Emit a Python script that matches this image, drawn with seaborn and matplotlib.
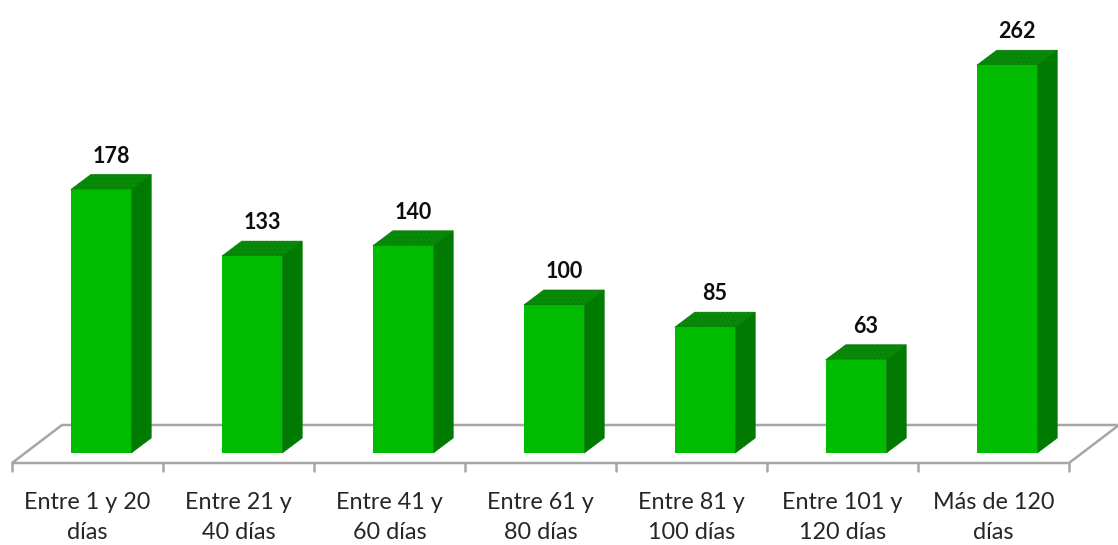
import numpy as np
import pandas as pd
import seaborn as sns
import matplotlib
matplotlib.use("Agg")
import matplotlib.pyplot as plt
from matplotlib.patches import Polygon
from matplotlib.lines import Line2D
from matplotlib.transforms import ScaledTranslation, IdentityTransform

categories = ["Entre 1 y 20\ndías", "Entre 21 y\n40 días", "Entre 41 y\n60 días",
              "Entre 61 y\n80 días", "Entre 81 y\n100 días", "Entre 101 y\n120 días",
              "Más de 120\ndías"]
values = [178, 133, 140, 100, 85, 63, 262]

FRONT = "#00BB00"
SIDE = "#007A00"
TOP = "#078A07"
FLOOR = "#A6A6A6"

sns.set_theme(style="white")
plt.rcParams["font.family"] = ["Lato", "DejaVu Sans"]
plt.rcParams["hatch.linewidth"] = 0.6

W, H, DPI = 1118, 545, 100
fig = plt.figure(figsize=(W / DPI, H / DPI), dpi=DPI)
ax = fig.add_axes([25.5 / W, 92 / H, 1057 / W, 453 / H])

df = pd.DataFrame({"cat": categories, "val": values})
sns.barplot(data=df, x="cat", y="val", color=FRONT, saturation=1, width=0.40,
            ax=ax, zorder=3, linewidth=0)
ax.set_xlim(-0.5, len(categories) - 0.5)
ax.set_ylim(0, 453 / 1.48)
for s in ax.spines.values():
    s.set_visible(False)
ax.set_yticks([])
ax.set_xlabel("")
ax.set_ylabel("")
ax.tick_params(axis="x", length=0, pad=28, labelsize=16.8, colors="#262626")
off = ScaledTranslation(-13.5 / DPI, 0, fig.dpi_scale_trans)
for lab in ax.get_xticklabels():
    lab.set_transform(lab.get_transform() + off)
    lab.set_linespacing(1.55)

fig.canvas.draw()
T = ax.transData
I = IdentityTransform()

# floor
n = len(categories)
fx0, fy = T.transform((-0.5, 0))
fx1, _ = T.transform((n - 0.5, 0))
front_dx, front_dy = -13.5, -10
back_dx, back_dy = 36.5, 28
pts = [(fx0 + front_dx, fy + front_dy), (fx1 + front_dx, fy + front_dy),
       (fx1 + back_dx, fy + back_dy), (fx0 + back_dx, fy + back_dy)]
ax.add_patch(Polygon(pts, closed=True, facecolor="white", edgecolor=FLOOR,
                     linewidth=1.8, transform=I, zorder=1, clip_on=False))
for b in range(n + 1):
    bx, _ = T.transform((b - 0.5, 0))
    ax.add_line(Line2D([bx + front_dx, bx + front_dx],
                       [fy + front_dy, fy + front_dy - 8],
                       color=FLOOR, linewidth=1.8, transform=I, zorder=1,
                       clip_on=False))

# 3D faces
dx, dy = 20, 15
for p, v in zip(ax.patches, values):
    x0 = p.get_x()
    x1 = x0 + p.get_width()
    (ax0, ay0) = T.transform((x0, 0))
    (ax1, ay1) = T.transform((x1, v))
    side = [(ax1, ay0), (ax1, ay1), (ax1 + dx, ay1 + dy), (ax1 + dx, ay0 + dy)]
    top = [(ax0, ay1), (ax1, ay1), (ax1 + dx, ay1 + dy), (ax0 + dx, ay1 + dy)]
    ax.add_patch(Polygon(side, closed=True, facecolor=SIDE, edgecolor=SIDE,
                         linewidth=0.5, transform=I, zorder=2, clip_on=False))
    ax.add_patch(Polygon(top, closed=True, facecolor=TOP, edgecolor="#0a7a0a",
                         hatch="....", linewidth=0.5, transform=I, zorder=2,
                         clip_on=False))
    fig.text((ax0 + ax1 + dx) / 2 / W, (ay1 + dy + 12) / H, f"{v}",
             ha="center", va="baseline", fontsize=15.5, fontweight="bold",
             color="#0d0d0d")

fig.savefig("out.png", dpi=DPI, facecolor="white")
